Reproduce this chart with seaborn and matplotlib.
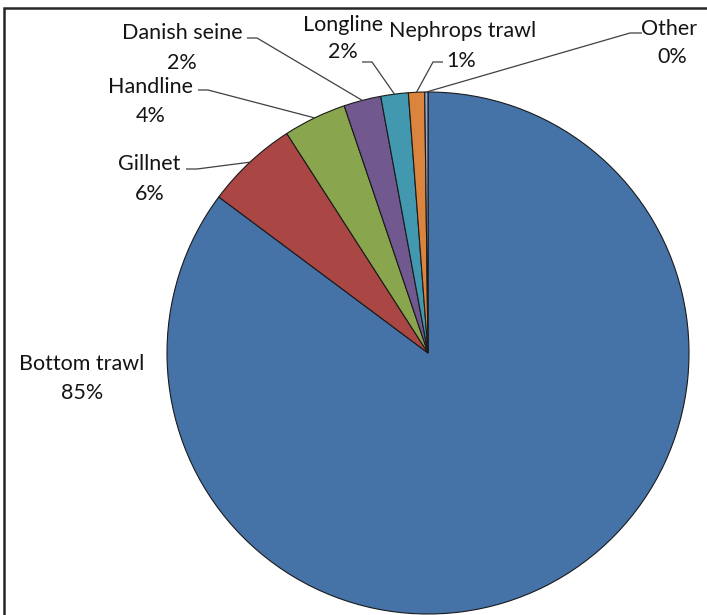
import matplotlib
matplotlib.use("Agg")
import matplotlib.pyplot as plt
import seaborn as sns
import numpy as np

# ---- data ----
categories = ["Bottom trawl", "Gillnet", "Handline", "Danish seine",
              "Longline", "Nephrops trawl", "Other"]
shares = [85.2, 5.7, 3.9, 2.3, 1.7, 1.0, 0.2]
pct_labels = ["85%", "6%", "4%", "2%", "2%", "1%", "0%"]
colors = ["#4572A7", "#AA4643", "#89A54E", "#71588F",
          "#4198AF", "#DB843D", "#93A9CF"]

sns.set_theme(style="white")
plt.rcParams['font.family'] = ['Lato', 'DejaVu Sans']

W, H = 707, 615
fig = plt.figure(figsize=(W / 100, H / 100), dpi=100)
ax = fig.add_axes([0, 0, 1, 1])


def Y(y):
    return H - y


cx, cy, R = 428, 353, 261
palette = sns.color_palette(colors)
wedges, _ = ax.pie(shares, colors=palette, startangle=90, counterclock=False,
                   center=(cx, Y(cy)), radius=R, frame=True,
                   wedgeprops=dict(edgecolor='#1a1a1a', linewidth=0.8))
ax.set_xlim(0, W)
ax.set_ylim(0, H)
ax.set_aspect('equal')
ax.axis('off')

# label layout (pixel positions, baselines)
name_pos = [(82, 370), (149.5, 170), (150, 93), (182, 39),
            (343, 31), (463, 37), (669, 35)]
pct_pos = [(82, 399), (150, 200), (151, 122), (182, 69),
           (343, 58), (461, 67), (672, 63)]
# leader stubs: (x near label, x towards slice, y)
stubs = [None, (186, 197, 169), (198, 208, 90), (247, 257, 38),
         (362, 372, 62), (443, 433, 62), (642, 630, 33)]

txt_color = '#141414'
fs = 15.5
for i, w in enumerate(wedges):
    nx, ny = name_pos[i]
    px_, py_ = pct_pos[i]
    ax.text(nx, Y(ny), categories[i], ha='center', va='baseline',
            fontsize=fs, color=txt_color)
    ax.text(px_, Y(py_), pct_labels[i], ha='center', va='baseline',
            fontsize=fs, color=txt_color)
    if stubs[i] is not None:
        theta = np.deg2rad((w.theta1 + w.theta2) / 2)
        axp = cx + R * np.cos(theta)
        ayp = Y(cy) + R * np.sin(theta)
        s0, s1, sy = stubs[i]
        ax.plot([s0, s1, axp], [Y(sy), Y(sy), ayp], color='#404040',
                lw=0.9, solid_capstyle='butt')

# chart frame (top and left edges visible)
ax.plot([4, 4, W], [0, Y(8), Y(8)], color='#262626', lw=1.8,
        solid_joinstyle='miter', clip_on=False)

fig.savefig("out.png", dpi=100, facecolor='white')
